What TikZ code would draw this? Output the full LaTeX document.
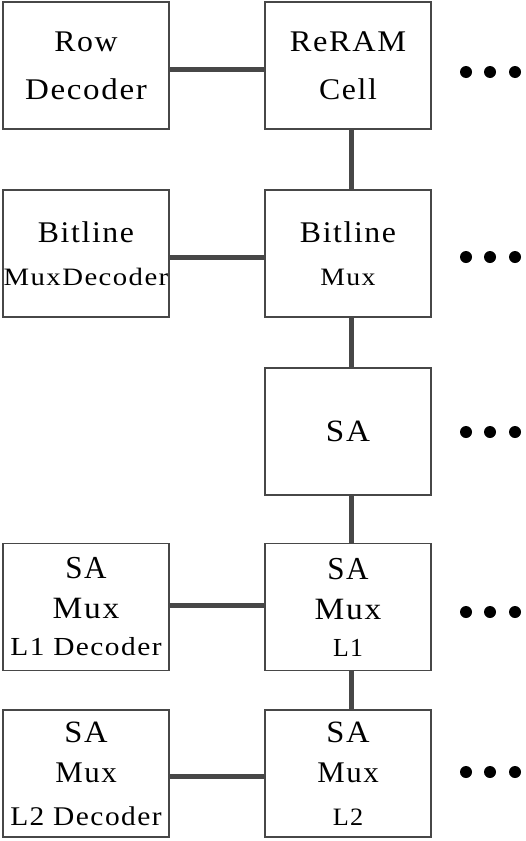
\documentclass[tikz,border=0pt]{standalone}
\usepackage{graphicx}
\usepackage{fontspec}
\setmainfont[LetterSpace=5]{Liberation Serif}
\def\fs#1{\fontsize{#1}{40}\selectfont}
\def\lbl#1#2#3{\fs{#1}\scalebox{#2}[1]{#3}}

\begin{document}
\begin{tikzpicture}[x=1pt, y=-1pt,
    blk/.style={draw=black!72, line width=1.5pt, minimum width=166pt, minimum height=127pt,
        inner sep=0pt, align=center, font=\fs{30}},
    wire/.style={line width=5pt, color=black!72}]
    %%%%% START %%%%%
    \useasboundingbox (0,0) rectangle (526,841);

    \node[blk] (rowdec) at (86,65.5) {\lbl{30}{1.06}{Row}\\[8pt]\lbl{30}{1.1}{Decoder}};
    \node[blk] (cell) at (348,65.5) {\lbl{30}{1.08}{ReRAM}\\[8pt]\lbl{30}{1.06}{Cell}};
    \node[blk] (bldec) at (86,253.5) {\lbl{30}{1.06}{Bitline}\\[3pt]\lbl{25}{1.15}{MuxDecoder}};
    \node[blk] (blmux) at (348,253.5) {\lbl{30}{1.06}{Bitline}\\[3pt]\lbl{25}{1.11}{Mux}};
    \node[blk] (sa) at (348,431.5) {\lbl{31}{1.07}{SA}};
    \node[blk] (muxonedec) at (86,607) {\lbl{32}{0.97}{SA}\\\lbl{31}{1.08}{Mux}\\[-3pt]\lbl{26}{1.13}{L1 Decoder}};
    \node[blk] (muxone) at (348,607) {\lbl{32}{0.97}{SA}\\\lbl{31}{1.08}{Mux}\\[-3pt]\lbl{26}{0.99}{L1}};
    \node[blk] (muxtwodec) at (86,773.5) {\lbl{31}{1.05}{SA}\\\lbl{30}{1.03}{Mux}\\[3pt]\lbl{27}{1.09}{L2 Decoder}};
    \node[blk] (muxtwo) at (348,773.5) {\lbl{31}{1.05}{SA}\\\lbl{30}{1.03}{Mux}\\[3pt]\lbl{25}{1.05}{L2}};

    \draw[wire] ([yshift=-3.5pt]rowdec.east) -- ([yshift=-3.5pt]cell.west);
    \draw[wire] ([yshift=-3.5pt]bldec.east) -- ([yshift=-3.5pt]blmux.west);
    \draw[wire] ([yshift=2pt]muxonedec.east) -- ([yshift=2pt]muxone.west);
    \draw[wire] ([yshift=-2.5pt]muxtwodec.east) -- ([yshift=-2.5pt]muxtwo.west);

    \draw[wire] ([xshift=3pt]cell.south) -- ([xshift=3pt]blmux.north);
    \draw[wire] ([xshift=3pt]blmux.south) -- ([xshift=3pt]sa.north);
    \draw[wire] ([xshift=3pt]sa.south) -- ([xshift=3pt]muxone.north);
    \draw[wire] ([xshift=3pt]muxone.south) -- ([xshift=3pt]muxtwo.north);

    % dots
    \foreach \y in {72,257,432,612,772}
        \foreach \x in {466,490,515}
            \fill (\x,\y) circle (6);
    %%%%% END %%%%%
\end{tikzpicture}
\end{document}
